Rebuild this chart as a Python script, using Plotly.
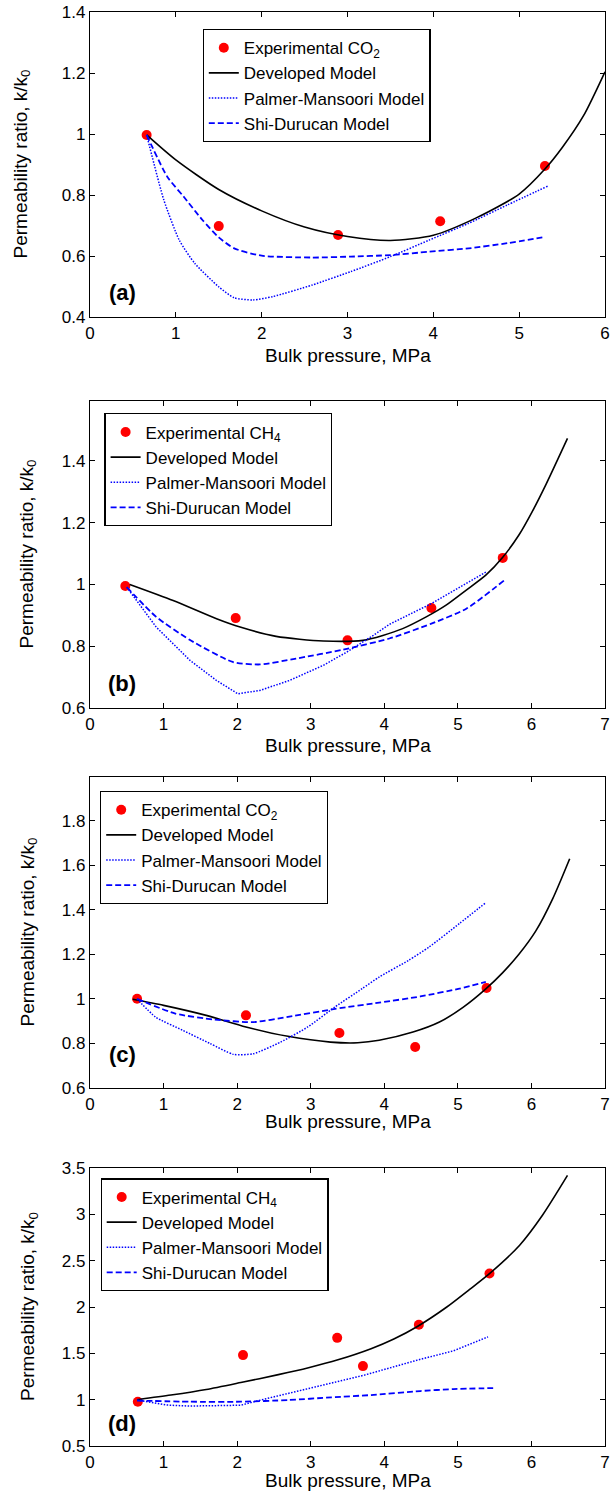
import plotly.graph_objects as go
from plotly.subplots import make_subplots

# ---------------- data ----------------
# Panel (a) - CO2
exp_x_a = [0.66, 1.50, 2.89, 4.08, 5.30]
exp_y_a = [0.997, 0.698, 0.669, 0.714, 0.895]
dev_x_a = [0.66, 1.0, 1.5, 2.0, 2.5, 3.0, 3.5, 4.0, 4.5, 5.0, 5.3, 5.5, 5.75, 6.0]
dev_y_a = [0.997, 0.915, 0.818, 0.748, 0.695, 0.664, 0.651, 0.668, 0.725, 0.803, 0.885, 0.955, 1.06, 1.204]
pm_x_a = [0.66, 0.86, 1.04, 1.22, 1.5, 1.68, 1.9, 2.13, 2.59, 3.04, 3.5, 3.95, 4.41, 4.86, 5.34]
pm_y_a = [0.997, 0.784, 0.652, 0.576, 0.499, 0.463, 0.456, 0.467, 0.505, 0.549, 0.598, 0.652, 0.707, 0.767, 0.83]
sd_x_a = [0.66, 0.9, 1.09, 1.31, 1.5, 1.68, 2.0, 2.59, 3.04, 3.5, 3.95, 4.41, 4.86, 5.27]
sd_y_a = [0.997, 0.86, 0.795, 0.718, 0.661, 0.625, 0.601, 0.595, 0.598, 0.603, 0.614, 0.625, 0.642, 0.661]

# Panel (b) - CH4
exp_x_b = [0.48, 1.98, 3.50, 4.64, 5.61]
exp_y_b = [0.995, 0.891, 0.819, 0.924, 1.086]
dev_x_b = [0.54, 1.13, 1.72, 2.04, 2.53, 3.17, 3.71, 3.98, 4.25, 4.57, 4.84, 5.11, 5.38, 5.61, 5.83, 6.02, 6.2, 6.49]
dev_y_b = [1.0, 0.948, 0.889, 0.862, 0.832, 0.817, 0.819, 0.835, 0.857, 0.895, 0.933, 0.981, 1.03, 1.088, 1.16, 1.24, 1.325, 1.473]
pm_x_b = [0.5, 0.9, 1.36, 1.72, 2.01, 2.31, 2.71, 3.17, 3.49, 3.85, 4.07, 4.64, 5.38]
pm_y_b = [0.991, 0.862, 0.754, 0.689, 0.646, 0.657, 0.689, 0.738, 0.781, 0.835, 0.871, 0.938, 1.04]
sd_x_b = [0.5, 0.9, 1.36, 1.94, 2.31, 2.8, 3.44, 4.07, 4.64, 5.12, 5.65]
sd_y_b = [0.991, 0.895, 0.82, 0.749, 0.741, 0.76, 0.789, 0.825, 0.873, 0.922, 1.017]

# Panel (c) - CO2
exp_x_c = [0.64, 2.12, 3.39, 4.42, 5.39]
exp_y_c = [1.001, 0.926, 0.847, 0.784, 1.049]
dev_x_c = [0.58, 1.0, 1.58, 2.12, 2.69, 3.27, 3.64, 3.93, 4.39, 4.75, 5.07, 5.38, 5.61, 5.83, 6.06, 6.29, 6.52]
dev_y_c = [0.998, 0.971, 0.926, 0.874, 0.832, 0.806, 0.803, 0.814, 0.851, 0.896, 0.962, 1.045, 1.118, 1.2, 1.305, 1.45, 1.629]
pm_x_c = [0.64, 0.89, 1.26, 1.63, 1.95, 2.22, 2.59, 2.96, 3.33, 3.7, 3.93, 4.33, 4.61, 5.02, 5.38]
pm_y_c = [1.0, 0.919, 0.859, 0.80, 0.751, 0.754, 0.806, 0.874, 0.964, 1.046, 1.098, 1.173, 1.233, 1.338, 1.432]
sd_x_c = [0.64, 1.16, 1.69, 2.22, 2.69, 3.33, 3.93, 4.49, 5.02, 5.38]
sd_y_c = [1.0, 0.934, 0.907, 0.896, 0.919, 0.955, 0.983, 1.011, 1.046, 1.076]

# Panel (d) - CH4
exp_x_d = [0.65, 2.08, 3.36, 3.71, 4.47, 5.43]
exp_y_d = [0.978, 1.481, 1.667, 1.362, 1.808, 2.362]
dev_x_d = [0.64, 1.1, 1.58, 2.05, 2.56, 2.97, 3.37, 3.82, 4.13, 4.45, 4.85, 5.16, 5.43, 5.84, 6.15, 6.49]
dev_y_d = [1.0, 1.05, 1.11, 1.185, 1.27, 1.345, 1.43, 1.55, 1.655, 1.79, 2.0, 2.19, 2.36, 2.667, 2.99, 3.42]
pm_x_d = [0.64, 1.04, 1.35, 2.05, 2.34, 2.7, 3.32, 3.73, 4.45, 4.94, 5.41]
pm_y_d = [0.996, 0.942, 0.931, 0.94, 1.0, 1.068, 1.183, 1.265, 1.427, 1.527, 1.678]
sd_x_d = [0.64, 1.35, 2.05, 2.7, 3.28, 3.82, 4.49, 4.94, 5.48]
sd_y_d = [0.99, 0.978, 0.978, 0.996, 1.025, 1.05, 1.093, 1.114, 1.125]

gas_labels = ["Experimental CO<sub>2</sub>", "Experimental CH<sub>4</sub>",
              "Experimental CO<sub>2</sub>", "Experimental CH<sub>4</sub>"]
panel_tags = ["(a)", "(b)", "(c)", "(d)"]
x_title = "Bulk pressure, MPa"
y_title = "Permeability ratio, k/k<sub>0</sub>"

# ---------------- layout geometry ----------------
W, H = 611, 1492
ML, MR, MT, MB = 90, 6, 12, 46
PW = W - ML - MR
PH = H - MT - MB

def py2paper(py):
    return (H - MB - py) / PH

panel_px = [(12, 317), (401, 708), (777, 1088), (1168, 1446)]
y_ranges = [[0.4, 1.4], [0.6, 1.594], [0.6, 1.996], [0.5, 3.5]]
y_dticks = [0.2, 0.2, 0.2, 0.5]
x_ranges = [[0, 6], [0, 7], [0, 7], [0, 7]]
legend_px = [(202.6, 29), (104.4, 413.3), (100, 791), (100.5, 1178.3)]
xtitle_off = [38, 37, 33, 34]
ytitle_px = [21, 27, 28, 29]
tag_px = [(122, 292), (122, 683), (122, 1054), (122, 1423)]
pm_shapes = ["spline", "linear", "spline", "linear"]

data = [
    (exp_x_a, exp_y_a, dev_x_a, dev_y_a, pm_x_a, pm_y_a, sd_x_a, sd_y_a),
    (exp_x_b, exp_y_b, dev_x_b, dev_y_b, pm_x_b, pm_y_b, sd_x_b, sd_y_b),
    (exp_x_c, exp_y_c, dev_x_c, dev_y_c, pm_x_c, pm_y_c, sd_x_c, sd_y_c),
    (exp_x_d, exp_y_d, dev_x_d, dev_y_d, pm_x_d, pm_y_d, sd_x_d, sd_y_d),
]

FONT = "Liberation Sans, Arial, Helvetica, sans-serif"
BLUE = "#0000FF"

fig = make_subplots(rows=4, cols=1)

annotations = []
for i, (ex, ey, dx, dy, px_, py_, sx, sy) in enumerate(data):
    row = i + 1
    lg = "legend" if i == 0 else f"legend{i+1}"
    fig.add_trace(go.Scatter(x=ex, y=ey, mode="markers", name=gas_labels[i],
                             marker=dict(color="#FF0000", size=10, line=dict(width=0)),
                             legend=lg, cliponaxis=False), row=row, col=1)
    fig.add_trace(go.Scatter(x=dx, y=dy, mode="lines", name="Developed Model",
                             line=dict(color="black", width=1.6, shape="spline", smoothing=0.7),
                             legend=lg), row=row, col=1)
    fig.add_trace(go.Scatter(x=px_, y=py_, mode="lines", name="Palmer-Mansoori Model",
                             line=dict(color=BLUE, width=1.5, dash="1.5px,1.5px",
                                       shape=pm_shapes[i], smoothing=0.6),
                             legend=lg), row=row, col=1)
    fig.add_trace(go.Scatter(x=sx, y=sy, mode="lines", name="Shi-Durucan Model",
                             line=dict(color=BLUE, width=1.8, dash="6px,3px", shape="spline", smoothing=0.6),
                             legend=lg), row=row, col=1)

    top, bot = panel_px[i]
    xa = "xaxis" if i == 0 else f"xaxis{i+1}"
    ya = "yaxis" if i == 0 else f"yaxis{i+1}"
    axis_common = dict(showline=True, linecolor="black", linewidth=1.2, mirror="ticks",
                       ticks="inside", ticklen=5, tickwidth=1, tickcolor="black",
                       showgrid=False, zeroline=False,
                       tickfont=dict(family=FONT, size=17, color="black"))
    fig.update_layout({
        xa: dict(domain=[0, 1], range=x_ranges[i], dtick=1, tick0=0, **axis_common),
        ya: dict(domain=[py2paper(bot), py2paper(top)], range=y_ranges[i],
                 dtick=y_dticks[i], tick0=0, **axis_common),
    })

    lx, ly = legend_px[i]
    fig.update_layout({lg: dict(x=(lx - ML) / PW, y=py2paper(ly), xanchor="left", yanchor="top",
                                xref="paper", yref="paper",
                                bgcolor="white", bordercolor="black", borderwidth=1.2,
                                font=dict(family=FONT, size=17, color="black"),
                                tracegroupgap=0, traceorder="normal")})

    xref = "x domain" if i == 0 else f"x{i+1} domain"
    yref = "y domain" if i == 0 else f"y{i+1} domain"
    ph = bot - top
    annotations.append(dict(text=x_title, xref=xref, yref=yref, x=0.5,
                            y=-xtitle_off[i] / ph, xanchor="center", yanchor="middle",
                            showarrow=False, font=dict(family=FONT, size=19, color="black")))
    annotations.append(dict(text=y_title, xref=xref, yref=yref,
                            x=(ytitle_px[i] - ML) / PW, y=0.5, textangle=-90,
                            xanchor="center", yanchor="middle",
                            showarrow=False, font=dict(family=FONT, size=19, color="black")))
    tx, ty = tag_px[i]
    annotations.append(dict(text="<b>" + panel_tags[i] + "</b>", xref=xref, yref=yref,
                            x=(tx - ML) / PW, y=(bot - ty) / ph, xanchor="center", yanchor="middle",
                            showarrow=False, font=dict(family=FONT, size=22, color="black")))

fig.update_layout(width=W, height=H, margin=dict(l=ML, r=MR, t=MT, b=MB, autoexpand=False),
                  paper_bgcolor="white", plot_bgcolor="white", showlegend=True,
                  annotations=annotations)

fig.write_html("out.html")
